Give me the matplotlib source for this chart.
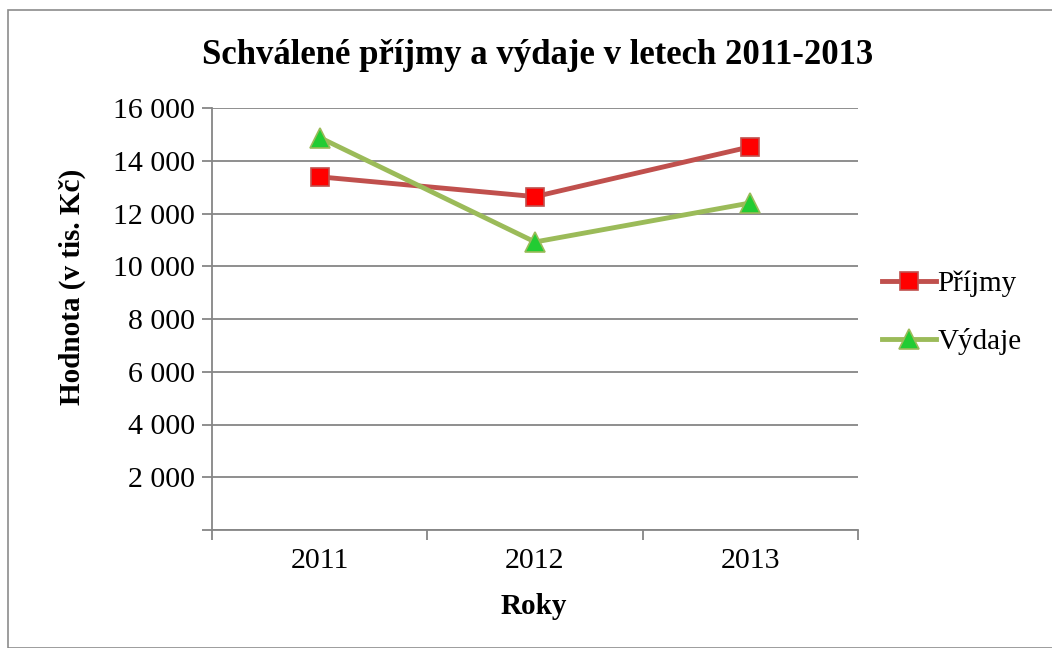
import matplotlib
matplotlib.use("Agg")
import matplotlib.pyplot as plt
from matplotlib.patches import Rectangle
from matplotlib.ticker import FixedLocator, FuncFormatter

years = ["2011", "2012", "2013"]
prijmy = [13390, 12640, 14530]
vydaje = [14880, 10920, 12400]
title = "Schválené příjmy a výdaje v letech 2011-2013"
ylabel = "Hodnota (v tis. Kč)"
xlabel = "Roky"
series_names = ["Příjmy", "Výdaje"]

plt.rcParams['font.family'] = ['Liberation Serif', 'DejaVu Serif']

W, H = 1052, 648
fig = plt.figure(figsize=(W / 100, H / 100), dpi=100)

# outer chart border
fig.patches.append(Rectangle((8 / W, 0 / H), 1.2, (H - 10) / H, transform=fig.transFigure,
                             fill=False, edgecolor="#8c8c8c", linewidth=1.2))

ax = fig.add_axes([212 / W, (H - 530) / H, (858 - 212) / W, (530 - 108) / H])
x = list(range(len(years)))
ax.plot(x, prijmy, color="#C0504D", linewidth=3.5, marker="s", markersize=12.5,
        markerfacecolor="#FF0000", markeredgecolor="#C0504D", markeredgewidth=1.2,
        label=series_names[0], zorder=3)
ax.plot(x, vydaje, color="#9BBB59", linewidth=3.5, marker="^", markersize=14,
        markerfacecolor="#22CC33", markeredgecolor="#9BBB59", markeredgewidth=1.2,
        label=series_names[1], zorder=3)

ax.set_xlim(-0.5, len(years) - 0.5)
ax.set_ylim(0, 16000)
ax.yaxis.set_major_locator(FixedLocator(list(range(0, 16001, 2000))))
ax.yaxis.set_major_formatter(FuncFormatter(lambda v, p: "" if v == 0 else f"{int(v):,}".replace(",", " ")))
ax.set_xticks([i - 0.5 for i in range(len(years) + 1)])
ax.set_xticklabels([])
ax.set_xticks(x, minor=True)
ax.set_xticklabels(years, minor=True)
ax.tick_params(axis="x", which="minor", length=0, pad=13, labelsize=21.5)
ax.tick_params(axis="x", which="major", length=7, width=1.3, color="#868686", direction="out")
ax.tick_params(axis="y", length=7, width=1.3, color="#868686", direction="out", pad=5, labelsize=21.5)

ax.grid(axis="y", color="#868686", linewidth=1.3)
ax.set_axisbelow(True)
for s in ["top", "right"]:
    ax.spines[s].set_visible(False)
for s in ["left", "bottom"]:
    ax.spines[s].set_color("#868686")
    ax.spines[s].set_linewidth(1.3)

fig.text(538 / W, 1 - 56 / H, title, ha="center", va="center", fontsize=25, fontweight="bold")
fig.text(534 / W, 1 - 606 / H, xlabel, ha="center", va="center", fontsize=21, fontweight="bold")
fig.text(72 / W, 1 - 287 / H, ylabel, ha="center", va="center", rotation=90, fontsize=21, fontweight="bold")

leg = ax.legend(loc="center left", bbox_to_anchor=(882 / W, 1 - 313 / H), bbox_transform=fig.transFigure,
                frameon=False, fontsize=21, handlelength=1.85, handletextpad=0.05, labelspacing=1.05,
                borderaxespad=0, borderpad=0)

fig.savefig("out.png", dpi=100)
